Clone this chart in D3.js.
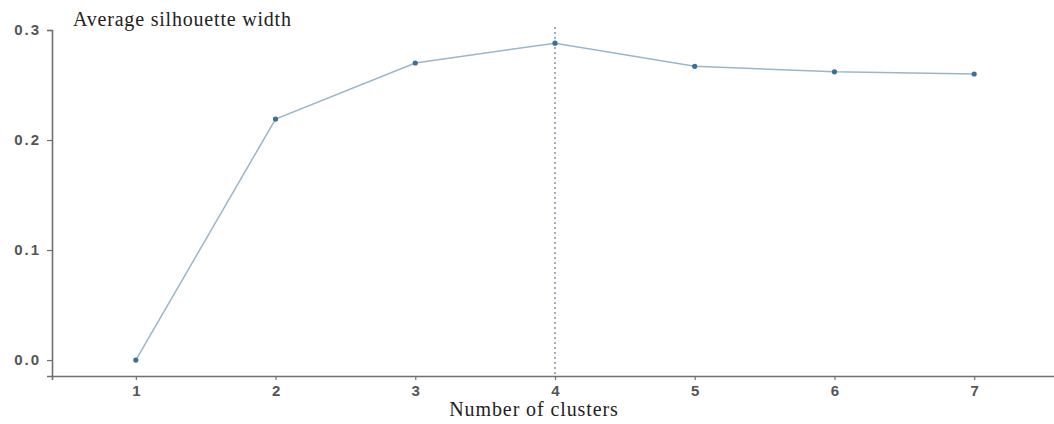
<!DOCTYPE html>
<html>
<head>
<meta charset="utf-8">
<script src="https://cdn.jsdelivr.net/npm/d3@7"></script>
<style>
  html, body { margin: 0; padding: 0; background: #fff; }
  svg { display: block; }
</style>
</head>
<body>
<svg id="chart" width="1054" height="424"></svg>
<script>
// Average silhouette width per number of clusters
const clusters = [1, 2, 3, 4, 5, 6, 7];
const silhouette = [0.0, 0.219, 0.270, 0.288, 0.267, 0.262, 0.260];
const yTicks = [0.0, 0.1, 0.2, 0.3];
const optimalK = 4;

const svg = d3.select("#chart");

const x = d3.scaleLinear().domain([0.4, 7.6]).range([52, 1058]);
const y = d3.scaleLinear().domain([-0.0145, 0.3]).range([376, 30]);

// x axis
const xAxis = svg.append("g")
  .attr("transform", `translate(0,${y(-0.0145)})`)
  .call(d3.axisBottom(x).tickValues(clusters).tickFormat(d3.format("d")).tickSize(4).tickPadding(5));
// y axis
const yAxis = svg.append("g")
  .attr("transform", `translate(${x(0.4)},0)`)
  .call(d3.axisLeft(y).tickValues(yTicks).tickFormat(d3.format(".1f")).tickSize(5).tickPadding(6));

[xAxis, yAxis].forEach(g => {
  g.select(".domain").attr("stroke", "#707070").attr("stroke-width", 1.6);
  g.selectAll(".tick line").attr("stroke", "#707070").attr("stroke-width", 1.2);
  g.selectAll(".tick text")
    .attr("fill", "#555")
    .style("font-family", "'Liberation Sans', Arial, sans-serif")
    .style("font-size", "15px")
    .style("font-weight", "bold");
});
yAxis.selectAll(".tick text").style("letter-spacing", "2px");
xAxis.selectAll(".tick text").style("letter-spacing", "0px");

// Reference line at the optimal number of clusters
svg.append("line")
  .attr("x1", x(optimalK)).attr("x2", x(optimalK))
  .attr("y1", 27).attr("y2", y(-0.0145))
  .attr("stroke", "#8896ad")
  .attr("stroke-width", 1.6)
  .attr("stroke-dasharray", "2,3");

const pts = clusters.map((c, i) => [c, silhouette[i]]);

svg.append("path")
  .datum(pts)
  .attr("fill", "none")
  .attr("stroke", "#9ab6c9")
  .attr("stroke-width", 1.5)
  .attr("d", d3.line().x(d => x(d[0])).y(d => y(d[1])));

svg.selectAll("circle.pt")
  .data(pts)
  .join("circle")
  .attr("class", "pt")
  .attr("cx", d => x(d[0]))
  .attr("cy", d => y(d[1]))
  .attr("r", 2.6)
  .attr("fill", "#3a6f98");

// Titles
svg.append("text")
  .attr("x", 73).attr("y", 26)
  .style("font-family", "'Liberation Serif', 'Times New Roman', serif")
  .style("font-size", "20px")
  .style("letter-spacing", "0.8px")
  .attr("fill", "#222")
  .text("Average silhouette width");

svg.append("text")
  .attr("x", 534).attr("y", 416)
  .attr("text-anchor", "middle")
  .style("font-family", "'Liberation Serif', 'Times New Roman', serif")
  .style("font-size", "20px")
  .style("letter-spacing", "0.9px")
  .attr("fill", "#222")
  .text("Number of clusters");
</script>
</body>
</html>
